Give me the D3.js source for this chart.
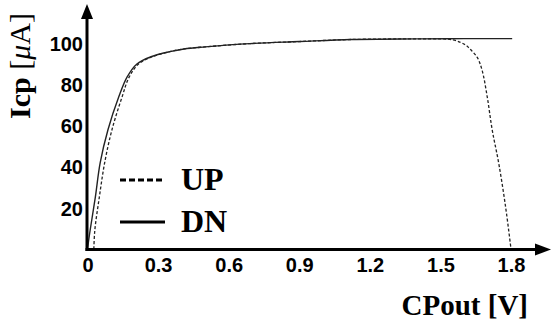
<!DOCTYPE html>
<html><head><meta charset="utf-8">
<script src="https://cdn.jsdelivr.net/npm/d3@7"></script>
<style>body{margin:0;background:#fff}svg{display:block}</style>
</head><body>
<script>
// Data
const dnV = [0, 0.011, 0.033, 0.054, 0.087, 0.133, 0.168, 0.21, 0.27, 0.35, 0.41, 0.5, 0.69, 0.9, 1.12, 1.4, 1.6, 1.805];
const dnI = [0, 9, 25, 42, 58, 74, 83.6, 90, 93.5, 96, 97.3, 98.3, 99.9, 100.9, 101.9, 102.2, 102.3, 102.3];
const upV = [0.027, 0.031, 0.05, 0.073, 0.104, 0.147, 0.177, 0.217, 0.275, 0.35, 0.41, 0.5, 0.69, 0.9, 1.12, 1.4, 1.5, 1.55, 1.585, 1.61, 1.628, 1.656, 1.677, 1.699, 1.72, 1.748, 1.777, 1.8];
const upI = [0, 9, 25, 42, 58, 74, 83.6, 90, 93.5, 96, 97.3, 98.3, 99.9, 100.9, 101.9, 102.2, 102.2, 101.8, 100.5, 99, 97, 93.3, 87, 74, 58, 41.6, 20.5, 0];
const xTicks = [0, 0.3, 0.6, 0.9, 1.2, 1.5, 1.8];
const xTickLabels = ["0", "0.3", "0.6", "0.9", "1.2", "1.5", "1.8"];
const yTicks = [20, 40, 60, 80, 100];
const yTickLabels = ["20", "40", "60", "80", "100"];
const seriesNames = ["UP", "DN"];

const W = 552, H = 323;
const svg = d3.select("body").append("svg").attr("width", W).attr("height", H);
const x = d3.scaleLinear().domain([0, 1.8]).range([87.5, 511]);
const y = d3.scaleLinear().domain([0, 100]).range([249, 43.4]);

// axes labels via d3 axes
const gx = svg.append("g").attr("transform", "translate(0,258)")
  .call(d3.axisBottom(x).tickValues(xTicks).tickSize(0).tickPadding(0)
    .tickFormat((d, i) => xTickLabels[i]));
gx.select(".domain").remove();
gx.selectAll("text").attr("font-family", "Liberation Sans, Arial, sans-serif")
  .attr("font-weight", "bold").attr("font-size", 20).attr("fill", "#000").attr("dy", "0.71em");

const gy = svg.append("g").attr("transform", "translate(83,0)")
  .call(d3.axisLeft(y).tickValues(yTicks).tickSize(0).tickPadding(0)
    .tickFormat((d, i) => yTickLabels[i]));
gy.select(".domain").remove();
gy.selectAll("text").attr("font-family", "Liberation Sans, Arial, sans-serif")
  .attr("font-weight", "bold").attr("font-size", 20).attr("fill", "#000").attr("dy", "0.36em");

// curves
const line = (V, I) => d3.line().curve(d3.curveCatmullRom.alpha(0.5))
  .x((d, i) => x(V[i])).y((d, i) => y(I[i]))(V);
svg.append("path").attr("d", line(dnV, dnI)).attr("fill", "none")
  .attr("stroke", "#222").attr("stroke-width", 1.4);
svg.append("path").attr("d", line(upV, upI)).attr("fill", "none")
  .attr("stroke", "#222").attr("stroke-width", 1.3).attr("stroke-dasharray", "3,2");

// axis lines with arrows
const ax = x(0) - 0.5, ay = y(0) + 0.5;
svg.append("line").attr("x1", ax).attr("x2", ax).attr("y1", ay + 1.5).attr("y2", 16)
  .attr("stroke", "#000").attr("stroke-width", 3);
svg.append("path").attr("d", `M${ax},4 L${ax - 6},19 L${ax + 6},19 Z`).attr("fill", "#000");
svg.append("line").attr("x1", ax - 1.5).attr("x2", 538).attr("y1", ay).attr("y2", ay)
  .attr("stroke", "#000").attr("stroke-width", 3);
svg.append("path").attr("d", `M551,${ay} L535,${ay - 6} L535,${ay + 6} Z`).attr("fill", "#000");

// legend
svg.append("line").attr("x1", 120).attr("x2", 164).attr("y1", 180).attr("y2", 180)
  .attr("stroke", "#000").attr("stroke-width", 3).attr("stroke-dasharray", "6,3");
svg.append("line").attr("x1", 120).attr("x2", 165).attr("y1", 222).attr("y2", 222)
  .attr("stroke", "#000").attr("stroke-width", 3);
const lf = "Liberation Serif, Times New Roman, serif";
svg.append("text").attr("x", 181).attr("y", 190).text(seriesNames[0])
  .attr("font-family", lf).attr("font-weight", "bold").attr("font-size", 32);
svg.append("text").attr("x", 181).attr("y", 231.5).text(seriesNames[1])
  .attr("font-family", lf).attr("font-weight", "bold").attr("font-size", 32);

// axis titles
svg.append("text").attr("x", 528).attr("y", 315).attr("text-anchor", "end")
  .attr("font-family", lf).attr("font-weight", "bold").attr("font-size", 29).text("CPout [V]");
const yl = svg.append("text").attr("transform", "translate(30,66) rotate(-90)")
  .attr("text-anchor", "middle").attr("font-family", lf).attr("font-size", 30);
yl.append("tspan").attr("font-weight", "bold").text("Icp ");
yl.append("tspan").text("[");
yl.append("tspan").attr("font-style", "italic").text("μ");
yl.append("tspan").text("A]");
</script>
</body></html>
